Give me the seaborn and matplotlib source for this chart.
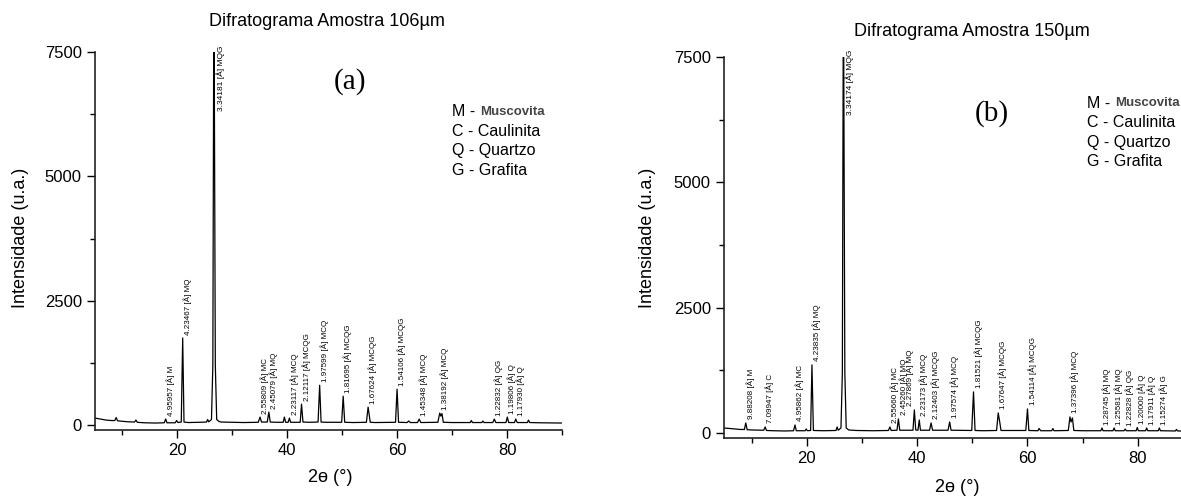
import matplotlib
matplotlib.use("Agg")
import matplotlib.pyplot as plt
from matplotlib.ticker import MultipleLocator
import seaborn as sns

tt_a = [5.0, 6.0, 7.0, 8.0, 8.6, 8.85, 9.1, 10.0, 11.0, 12.2, 12.45, 12.7, 14.0, 16.0,
        17.6, 17.87, 18.1, 19.6, 19.85, 20.1, 20.7, 20.96, 21.2, 22.0, 24.0, 25.3, 25.5,
        25.7, 26.2, 26.45, 26.6, 26.7, 26.9, 27.15, 27.6, 28.0, 30.0, 32.0, 34.7, 35.05,
        35.3, 36.35, 36.64, 36.9, 38.0, 39.25, 39.47, 39.7, 40.15, 40.39, 40.6, 42.35,
        42.59, 42.85, 44.0, 45.6, 45.89, 46.15, 47.0, 49.9, 50.17, 50.45, 52.0, 54.4,
        54.71, 55.1, 56.0, 59.7, 59.98, 60.25, 61.8, 62.1, 62.4, 63.7, 64.0, 64.3, 67.4,
        67.75, 67.95, 68.15, 68.4, 70.0, 73.3, 73.5, 73.7, 75.4, 75.6, 75.8, 77.4, 77.68,
        77.95, 79.8, 80.04, 80.3, 81.35, 81.58, 81.85, 83.7, 83.9, 84.1, 86.0, 90.0]
int_a = [140, 120, 100, 90, 90, 150, 85, 75, 65, 60, 100, 55, 45, 40,
         45, 120, 45, 45, 90, 50, 60, 1750, 60, 50, 55, 60, 110,
         65, 110, 1200, 7500, 7500, 1200, 110, 70, 60, 55, 50, 55, 160,
         60, 60, 260, 60, 55, 55, 160, 55, 55, 140, 55, 55,
         420, 60, 55, 60, 800, 60, 55, 55, 580, 55, 50, 55,
         360, 55, 50, 55, 720, 55, 50, 80, 50, 50, 120, 50, 55,
         240, 180, 230, 55, 50, 50, 90, 50, 50, 80, 50, 50, 120,
         50, 50, 160, 50, 50, 120, 50, 50, 100, 50, 45, 40]

tt_b = [5.0, 6.0, 7.0, 8.0, 8.7, 8.94, 9.2, 10.0, 12.2, 12.46, 12.7, 14.0, 16.0, 17.6,
        17.87, 18.1, 19.7, 19.9, 20.1, 20.7, 20.94, 21.2, 23.0, 25.3, 25.5, 25.7, 26.2,
        26.45, 26.6, 26.7, 26.9, 27.15, 27.6, 29.0, 32.0, 34.8, 35.07, 35.3, 36.35, 36.61,
        36.85, 39.25, 39.5, 39.75, 40.15, 40.39, 40.6, 42.25, 42.53, 42.8, 45.6, 45.9,
        46.15, 49.9, 50.22, 50.5, 52.0, 54.4, 54.7, 55.0, 55.2, 59.7, 60.0, 60.25, 61.9,
        62.1, 62.4, 64.4, 64.6, 64.8, 67.4, 67.7, 67.9, 68.15, 68.4, 70.0, 73.3, 73.5,
        73.7, 75.5, 75.7, 75.9, 77.5, 77.7, 77.9, 79.7, 79.9, 80.1, 81.4, 81.6, 81.8,
        83.7, 83.9, 84.1, 86.8, 87.0, 87.2, 88.5, 90.0]
int_b = [100, 90, 80, 70, 70, 200, 65, 60, 55, 120, 50, 45, 40, 45,
         160, 45, 45, 80, 45, 50, 1360, 50, 45, 50, 120, 55, 100,
         1200, 7500, 7500, 1200, 100, 60, 50, 45, 50, 120, 50, 55, 280,
         55, 55, 460, 60, 55, 260, 55, 55, 200, 55, 55, 220,
         55, 50, 820, 50, 45, 50, 400, 200, 50, 50, 480, 50, 45,
         90, 45, 45, 90, 45, 50, 320, 220, 300, 50, 45, 45, 100,
         45, 45, 100, 45, 45, 80, 45, 45, 110, 45, 45, 100, 45,
         45, 100, 45, 40, 70, 40, 40, 40]

# Picos identificados (posicao, altura, rotulo)
pico_pos_a = [17.87, 20.96, 26.65, 35.05, 36.64, 40.39, 42.59, 45.89, 50.17, 54.71,
              59.98, 64.0, 67.75, 77.68, 80.04, 81.58]
pico_int_a = [120, 1750, 7500, 160, 260, 140, 420, 800, 580, 360,
              720, 120, 240, 120, 160, 120]
pico_txt_a = ["4.95957 [Å] M", "4.23467 [Å] MQ", "3.34181 [Å] MQG", "2.55809 [Å] MC",
              "2.45079 [Å] MQ", "2.23117 [Å] MCQ", "2.12117 [Å] MCQG", "1.97599 [Å] MCQ",
              "1.81695 [Å] MCQG", "1.67624 [Å] MCQG", "1.54106 [Å] MCQG", "1.45348 [Å] MCQ",
              "1.38192 [Å] MCQ", "1.22832 [Å] QG", "1.19806 [Å] Q", "1.17930 [Å] Q"]

pico_pos_b = [8.94, 12.46, 17.87, 20.94, 26.65, 35.07, 36.61, 39.5, 40.39, 42.53,
              45.9, 50.22, 54.7, 60.0, 67.7, 73.5, 75.7, 77.7, 79.9, 81.6, 83.9]
pico_int_b = [200, 120, 160, 1360, 7500, 120, 280, 460, 260, 200,
              220, 820, 400, 480, 320, 100, 100, 80, 110, 100, 100]
pico_txt_b = ["9.88208 [Å] M", "7.09947 [Å] C", "4.95862 [Å] MC", "4.23835 [Å] MQ",
              "3.34174 [Å] MQG", "2.55660 [Å] MC", "2.45260 [Å] MQ", "2.27869 [Å] MQ",
              "2.23173 [Å] MCQ", "2.12403 [Å] MCQG", "1.97574 [Å] MCQ", "1.81521 [Å] MCQG",
              "1.67647 [Å] MCQG", "1.54114 [Å] MCQG", "1.37396 [Å] MCQ", "1.28745 [Å] MQ",
              "1.25581 [Å] MQ", "1.22828 [Å] QG", "1.20000 [Å] Q", "1.17911 [Å] Q",
              "1.15274 [Å] G"]

legenda = ["C - Caulinita", "Q - Quartzo", "G - Grafita"]

sns.set_style("ticks")
plt.rcParams["font.family"] = ["Liberation Sans", "DejaVu Sans"]
plt.rcParams["text.color"] = "black"
plt.rcParams["xtick.color"] = "black"
plt.rcParams["ytick.color"] = "black"

W, H = 1181, 497
fig = plt.figure(figsize=(W / 100, H / 100), dpi=100)


def fx(px):
    return px / W


def fy(py):
    return 1 - py / H


def painel(ax, tt, inten, pos, alt, txt):
    sns.lineplot(x=tt, y=inten, ax=ax, color="black", linewidth=0.9,
                 estimator=None, sort=False)
    ax.set_xlim(5, 90)
    ax.set_ylim(-100, 7500)
    ax.xaxis.set_major_locator(MultipleLocator(20))
    ax.xaxis.set_minor_locator(MultipleLocator(10))
    ax.yaxis.set_major_locator(MultipleLocator(2500))
    ax.yaxis.set_minor_locator(MultipleLocator(1250))
    ax.tick_params(which="major", length=6, width=1, labelsize=12)
    ax.tick_params(which="minor", length=3.5, width=1)
    sns.despine(ax=ax)
    for s in ["left", "bottom"]:
        ax.spines[s].set_linewidth(1.2)
        ax.spines[s].set_color("#222222")
    ax.set_xlabel("")
    ax.set_ylabel("")
    for i, (x, y, t) in enumerate(zip(pos, alt, txt)):
        if y >= 7500:
            # pico principal: rotulo ao lado da linha
            ax.annotate(t, (x, y), xytext=(1.5, 5), textcoords="offset points",
                        rotation=90, ha="left", va="top", fontsize=6)
            continue
        # se o proximo pico rotulado esta muito perto, o rotulo vai para a esquerda
        perto = i + 1 < len(pos) and pos[i + 1] - x < 1.2
        ax.annotate(t, (x, y), xytext=(-0.3 if perto else 0.3, 2.5),
                    textcoords="offset points", rotation=90,
                    ha="right" if perto else "left", va="bottom", fontsize=5.8)


ax_a = fig.add_axes([fx(95), 67 / H, 467 / W, 378 / H])
ax_b = fig.add_axes([fx(724), 59 / H, 469 / W, 381 / H])
painel(ax_a, tt_a, int_a, pico_pos_a, pico_int_a, pico_txt_a)
painel(ax_b, tt_b, int_b, pico_pos_b, pico_int_b, pico_txt_b)

# Titulos e eixos
fig.text(fx(327), fy(22), "Difratograma Amostra 106µm", ha="center", va="center", fontsize=13)
fig.text(fx(972), fy(31), "Difratograma Amostra 150µm", ha="center", va="center", fontsize=13)
fig.text(fx(21), fy(238), "Intensidade (u.a.)", rotation=90, ha="center", va="center", fontsize=13)
fig.text(fx(648), fy(238), "Intensidade (u.a.)", rotation=90, ha="center", va="center", fontsize=13)
fig.text(fx(330), fy(478), "2ɵ (°)", ha="center", va="center", fontsize=13)
fig.text(fx(957), fy(487), "2ɵ (°)", ha="center", va="center", fontsize=13)

# Letras dos paineis
fig.text(fx(350), fy(82), "(a)", ha="center", va="center", fontsize=21, family="Liberation Serif")
fig.text(fx(992), fy(114), "(b)", ha="center", va="center", fontsize=21, family="Liberation Serif")

# Legenda das fases
for ax, x0, y0 in [(ax_a, 452, 112), (ax_b, 1087, 103)]:
    m = fig.text(fx(x0), fy(y0), "M - ", ha="left", va="center", fontsize=11.5)
    ax.annotate("Muscovita", xy=(1, 0.5), xycoords=m, ha="left", va="center",
                fontsize=9.5, fontweight="bold", color="#444444", annotation_clip=False)
    for i, t in enumerate(legenda):
        fig.text(fx(x0), fy(y0 + 19.5 * (i + 1)), t, ha="left", va="center", fontsize=11.5)

fig.savefig("out.png", dpi=100)
